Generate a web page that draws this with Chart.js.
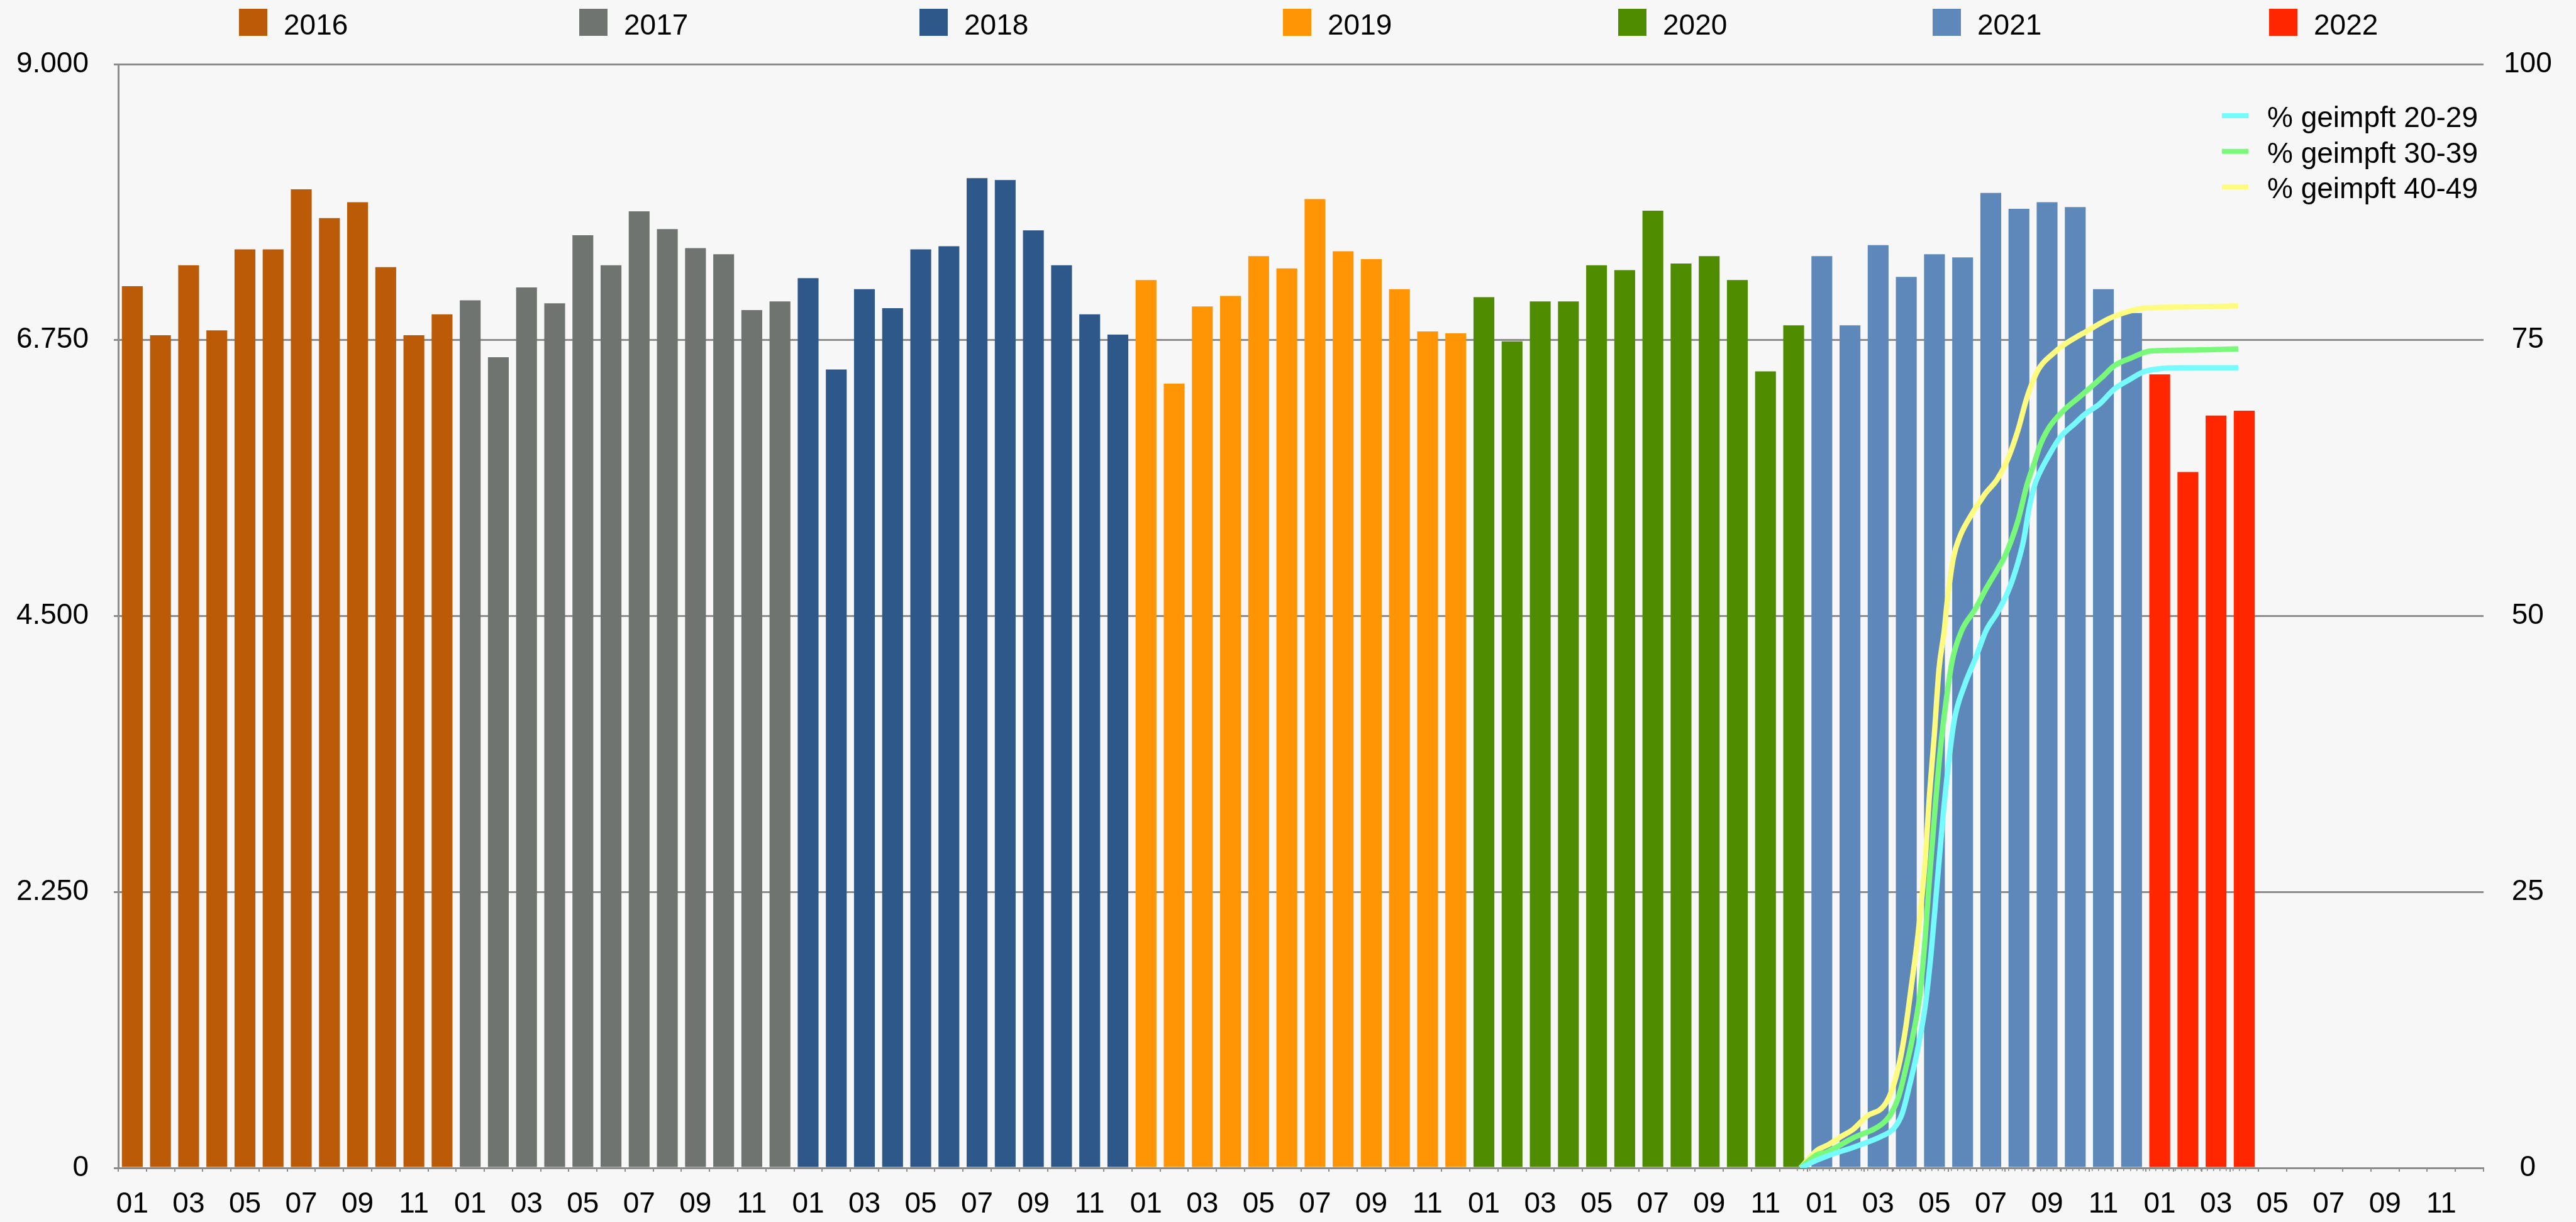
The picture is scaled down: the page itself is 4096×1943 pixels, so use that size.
<!DOCTYPE html>
<html>
<head>
<meta charset="utf-8">
<script src="https://cdn.jsdelivr.net/npm/chart.js@4.4.0/dist/chart.umd.min.js"></script>
<style>
  html, body { margin: 0; padding: 0; background: #f7f7f7; overflow: hidden; }
  #wrap { width: 4096px; height: 1943px; }
</style>
</head>
<body>
<div id="wrap"><canvas id="chart" width="4096" height="1943"></canvas></div>
<script>
// categories: 7 years x 12 months
const months = ['01', '02', '03', '04', '05', '06', '07', '08', '09', '10', '11', '12'];
const years = ['2016', '2017', '2018', '2019', '2020', '2021', '2022'];

// monthly counts per year (left axis)
const values2016 = [7190, 6790, 7360, 6830, 7490, 7490, 7980, 7745, 7875, 7345, 6790, 6960];
const values2017 = [7075, 6610, 7180, 7050, 7605, 7360, 7800, 7655, 7500, 7450, 6995, 7065];
const values2018 = [7255, 6510, 7165, 7010, 7490, 7515, 8070, 8055, 7645, 7360, 6960, 6795];
const values2019 = [7240, 6395, 7025, 7110, 7435, 7335, 7900, 7475, 7410, 7165, 6820, 6805];
const values2020 = [7100, 6740, 7065, 7065, 7360, 7320, 7805, 7375, 7435, 7240, 6495, 6870];
const values2021 = [7435, 6870, 7525, 7265, 7450, 7425, 7950, 7820, 7875, 7835, 7165, 6970];
const values2022 = [6470, 5675, 6135, 6175];

// vaccination share in % (right axis); x = months since start of 2016
const vacc20x = [60.0, 60.59, 60.99, 62.05, 62.95, 63.37, 63.66, 63.94, 64.21, 64.5, 64.71, 64.92, 65.13, 65.34, 65.55, 65.89, 66.31, 66.69, 67.09, 67.49, 67.83, 68.04, 68.23, 68.44, 68.62, 68.96, 69.36, 69.91, 70.25, 70.77, 71.32, 71.84, 72.45, 73.92, 75.77];
const vacc20 = [0, 0.7, 1.1, 2.0, 2.9, 3.6, 4.9, 7.6, 10.6, 14.8, 19.6, 25.7, 31.7, 36.8, 40.7, 43.6, 46.2, 48.7, 50.3, 52.3, 54.8, 56.9, 59.7, 61.9, 63.0, 64.6, 66.2, 67.5, 68.3, 69.2, 70.6, 71.4, 72.2, 72.5, 72.5];
const vacc30x = [60.0, 60.59, 60.91, 61.88, 62.95, 63.26, 63.54, 63.81, 64.02, 64.3, 64.5, 64.63, 64.82, 65.03, 65.24, 65.47, 65.81, 66.29, 66.69, 67.09, 67.36, 67.83, 68.16, 68.44, 68.62, 68.96, 69.51, 70.03, 70.85, 71.32, 71.93, 72.58, 73.92, 75.77];
const vacc30 = [0, 1.2, 1.4, 2.7, 4.0, 4.9, 6.5, 9.2, 11.6, 15.7, 21.1, 25.7, 31.7, 37.7, 42.2, 46.0, 48.7, 50.6, 52.5, 54.2, 55.4, 58.6, 61.9, 64.0, 65.4, 67.1, 68.7, 69.8, 71.6, 72.7, 73.4, 74.0, 74.1, 74.2];
const vacc40x = [60.0, 60.6, 61.0, 61.5, 61.9, 62.4, 63.0, 63.3, 63.58, 63.79, 64.0, 64.19, 64.36, 64.5, 64.63, 64.82, 64.99, 65.18, 65.28, 65.51, 65.74, 66.02, 66.63, 67.09, 67.43, 67.83, 68.16, 68.56, 69.11, 69.51, 70.31, 71.25, 72.45, 73.92, 75.77];
const vacc40 = [0, 1.6, 2.1, 2.9, 3.5, 4.7, 5.6, 7.1, 9.7, 12.7, 16.6, 20.2, 24.2, 28.1, 33.2, 39.2, 45.2, 48.7, 51.2, 55.3, 57.2, 58.6, 61.0, 62.4, 64.0, 66.8, 69.8, 72.3, 73.8, 74.6, 75.8, 77.1, 77.9, 78.0, 78.1];

// tick labels
const leftTicks = [0, 2250, 4500, 6750, 9000];
const rightTicks = [0, 25, 50, 75, 100];

const yearColors = ['#bb5b08', '#6f7471', '#2e578a', '#ff9505', '#508c00', '#5f88ba', '#ff2600'];
const lineColors = ['#76fbfd', '#78f97a', '#fffb7f'];
const FONT = "'Helvetica Neue', Helvetica, 'Liberation Sans', Arial, sans-serif";
const GRID = '#8c8c8c';

const labels = [];
years.forEach(() => months.forEach(m => labels.push(m)));

const yearValues = [values2016, values2017, values2018, values2019, values2020, values2021, values2022];
const barDatasets = years.map((yr, k) => {
    const data = new Array(labels.length).fill(null);
    yearValues[k].forEach((v, i) => { data[k * 12 + i] = v; });
    return {
        type: 'bar',
        label: yr,
        data: data,
        backgroundColor: yearColors[k],
        borderWidth: 0,
        grouped: false,
        barPercentage: 0.74,
        categoryPercentage: 1.0,
        xAxisID: 'x',
        yAxisID: 'y'
    };
});

function lineSet(label, xs, ys, color) {
    return {
        type: 'line',
        label: label,
        data: xs.map((x, i) => ({ x: x, y: ys[i] })),
        borderColor: color,
        backgroundColor: color,
        borderWidth: 8.5,
        pointRadius: 0,
        fill: false,
        cubicInterpolationMode: 'monotone',
        xAxisID: 'xl',
        yAxisID: 'yr'
    };
}
const lineDatasets = [
    lineSet('% geimpft 20-29', vacc20x, vacc20, lineColors[0]),
    lineSet('% geimpft 30-39', vacc30x, vacc30, lineColors[1]),
    lineSet('% geimpft 40-49', vacc40x, vacc40, lineColors[2])
];

// legend placement (canvas px)
const legendLayout = {
    boxX: [380, 921, 1462, 2040, 2573, 3073, 3608],
    boxY: 14, boxW: 45, boxH: 43, textGap: 26, textBase: 55,
    sampleX: 3533, sampleW: 42, sampleH: 8, sampleY0: 184, rowStep: 56.7, lineTextX: 3605, lineTextDy: 18
};

const legendPlugin = {
    id: 'customLegends',
    afterDraw(chart) {
        const ctx = chart.ctx;
        const L = legendLayout;
        ctx.save();
        ctx.font = '46px ' + FONT;
        ctx.textAlign = 'left';
        ctx.textBaseline = 'alphabetic';
        const bars = chart.data.datasets.filter(d => d.type === 'bar');
        bars.forEach((d, i) => {
            ctx.fillStyle = d.backgroundColor;
            ctx.fillRect(L.boxX[i], L.boxY, L.boxW, L.boxH);
            ctx.fillStyle = '#000';
            ctx.fillText(d.label, L.boxX[i] + L.boxW + L.textGap, L.textBase);
        });
        const lines = chart.data.datasets.filter(d => d.type === 'line');
        lines.forEach((d, i) => {
            const cy = L.sampleY0 + i * L.rowStep;
            ctx.fillStyle = d.borderColor;
            ctx.fillRect(L.sampleX, cy - L.sampleH / 2, L.sampleW, L.sampleH);
            ctx.fillStyle = '#000';
            ctx.fillText(d.label, L.lineTextX, cy + L.lineTextDy);
        });
        ctx.restore();
    }
};

const fmtDE = v => String(v).replace(/\B(?=(\d{3})+(?!\d))/g, '.');

new Chart(document.getElementById('chart'), {
    type: 'bar',
    data: {
        labels: labels,
        datasets: [...lineDatasets, ...barDatasets]
    },
    options: {
        responsive: false,
        animation: false,
        devicePixelRatio: 1,
        layout: { padding: { top: 102, left: 0, right: 0, bottom: 0 } },
        plugins: {
            legend: { display: false },
            tooltip: { enabled: false }
        },
        scales: {
            x: {
                type: 'category',
                offset: true,
                weight: 1,
                grid: { offset: true, drawOnChartArea: false, drawTicks: true, tickLength: 6, color: GRID, lineWidth: 2 },
                border: { display: true, color: GRID, width: 3 },
                ticks: {
                    autoSkip: false, maxRotation: 0, minRotation: 0, padding: 25, color: '#000',
                    font: { size: 46, family: FONT },
                    callback: (v, i) => (i % 2 === 0 ? labels[i] : '')
                },
                afterFit: s => { s.height = 86; }
            },
            // linear twin of the month axis for the vaccination lines; only draws small weekly ticks
            xl: {
                type: 'linear', position: 'bottom', weight: 0, min: 0, max: 84,
                afterBuildTicks: s => {
                    const t = [];
                    for (let m = 60; m <= 76; m += 12 / 52) t.push({ value: m });
                    s.ticks = t;
                },
                grid: { drawOnChartArea: false, drawTicks: true, tickLength: 5, color: GRID, lineWidth: 1.5 },
                border: { display: false },
                ticks: { display: false },
                afterFit: s => { s.height = 0; }
            },
            y: {
                position: 'left', min: 0, max: 9000,
                afterBuildTicks: s => { s.ticks = leftTicks.map(v => ({ value: v })); },
                grid: { color: GRID, lineWidth: 3, tickLength: 7 },
                border: { display: true, color: GRID, width: 3 },
                ticks: { padding: 40, color: '#000', font: { size: 46, family: FONT }, callback: v => fmtDE(v) },
                afterFit: s => { s.width = 188; }
            },
            yr: {
                position: 'right', min: 0, max: 100,
                afterBuildTicks: s => { s.ticks = rightTicks.map(v => ({ value: v })); },
                grid: { display: false },
                border: { display: false },
                ticks: { padding: 24, crossAlign: 'center', color: '#000', font: { size: 46, family: FONT } },
                afterFit: s => { s.width = 147; }
            }
        }
    },
    plugins: [legendPlugin]
});
</script>
</body>
</html>
